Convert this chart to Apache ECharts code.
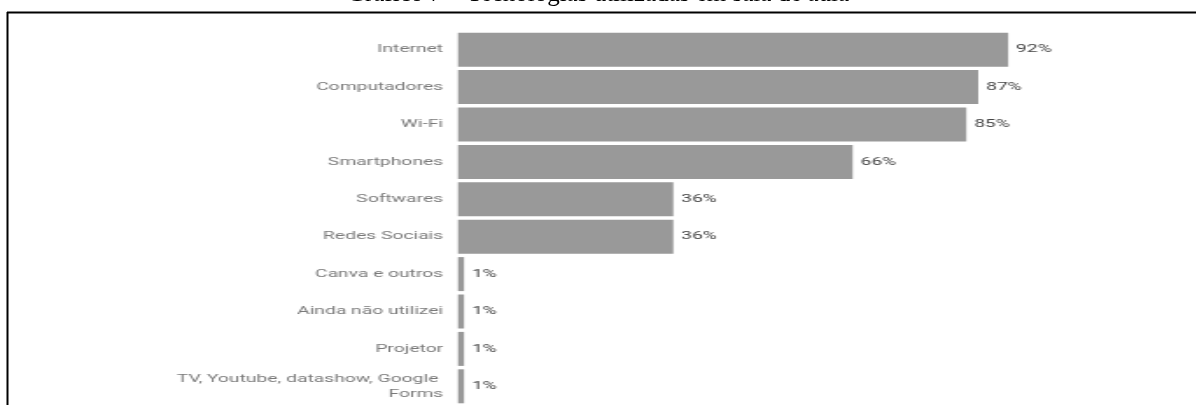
<!DOCTYPE html>
<html>
<head>
<meta charset="utf-8">
<script src="https://cdn.jsdelivr.net/npm/echarts@6/dist/echarts.min.js"></script>
<style>
html,body{margin:0;padding:0;background:#fff;overflow:hidden;}
#wrap{position:relative;width:1196px;height:405px;}
#frame{position:absolute;left:0;top:0;width:1196px;height:405px;}
#chart{position:absolute;left:0;top:0;height:405px;transform-origin:0 0;}
</style>
</head>
<body>
<div id="wrap"><div id="frame"></div><div id="chart"></div></div>
<script>
const titleText = 'Gráfico 7 – Tecnologias utilizadas em sala de aula';
const categories = ['Internet','Computadores','Wi-Fi','Smartphones','Softwares','Redes Sociais','Canva e outros','Ainda não utilizei','Projetor','TV, Youtube, datashow, Google Forms'];
const values = [92, 87, 85, 66, 36, 36, 1, 1, 1, 1];

// the embedded chart image is horizontally stretched in the reference
const S = 1.75;
const chartDiv = document.getElementById('chart');
chartDiv.style.width = (1196 / S) + 'px';
chartDiv.style.transform = 'scaleX(' + S + ')';

const frame = echarts.init(document.getElementById('frame'));
frame.setOption({
  animation: false,
  graphic: [
    { type: 'text', left: 'center', top: -18, style: { text: titleText, font: '25px "Liberation Serif"', fill: '#000' } },
    { type: 'line', shape: { x1: 7, y1: 12.5, x2: 1196, y2: 12.5 }, style: { stroke: '#000', lineWidth: 2 } },
    { type: 'line', shape: { x1: 7.5, y1: 12, x2: 7.5, y2: 405 }, style: { stroke: '#000', lineWidth: 2 } }
  ]
});

const chart = echarts.init(chartDiv);
chart.setOption({
  animation: false,
  grid: { left: 458 / S, top: 31, width: 598 / S, height: 374, containLabel: false },
  xAxis: { type: 'value', min: 0, max: 100, show: false },
  yAxis: {
    type: 'category', data: categories, inverse: true,
    axisLine: { show: false }, axisTick: { show: false }, splitLine: { show: false },
    axisLabel: { color: '#7a7a7a', fontFamily: 'Roboto', fontSize: 11, margin: 8.5, width: 156, overflow: 'break', lineHeight: 15, align: 'right' }
  },
  series: [{
    type: 'bar', data: values, barWidth: 34,
    itemStyle: { color: '#999999' },
    label: { show: true, position: 'right', distance: 4.5, formatter: '{c}%', color: '#444', fontFamily: 'Roboto', fontSize: 11, fontWeight: 'normal' }
  }]
});
</script>
</body>
</html>
